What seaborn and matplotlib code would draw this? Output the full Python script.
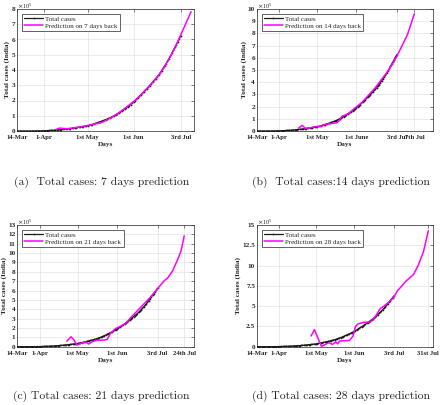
import numpy as np
import pandas as pd
import matplotlib
matplotlib.use("Agg")
import matplotlib.pyplot as plt
import seaborn as sns
from matplotlib.ticker import ScalarFormatter

# ---------------- data ----------------
# cumulative total cases in India, daily from 14-Mar (day 0) to 3-Jul (day 111)
total_cases = [
    100, 110, 114, 137, 151, 173, 223, 283, 360, 433, 519, 606, 694, 834, 918, 1024,
    1251, 1397, 1834, 2069, 2547, 3072, 3588, 4289, 4778, 5351, 5916, 6725, 7600,
    8446, 9205, 10453, 11487, 12371, 13430, 14352, 15722, 17265, 18600, 20080,
    21373, 23077, 24506, 26283, 27890, 29451, 31324, 33062, 35043, 37336, 39980,
    42533, 46433, 49391, 52952, 56342, 59662, 62939, 67152, 70756, 74281, 78003,
    81970, 85940, 90927, 96169, 101139, 106750, 112359, 118447, 125101, 131868,
    138845, 145380, 151767, 158333, 165799, 173763, 182143, 190535, 198706,
    207615, 216919, 226770, 236657, 246628, 256611, 266598, 276583, 286579,
    297535, 308993, 320922, 332424, 343091, 354065, 366946, 380532, 395048,
    410461, 425282, 440215, 456183, 473105, 490401, 508953, 528859, 548318,
    566840, 585493, 604641, 625544,
]

# predictions (values in units of 1e5 cases)
pred7_days = [27, 29, 31, 34, 38, 42, 47, 52, 57, 60, 64, 68, 72, 76, 80, 84, 88,
              92, 96, 100, 104, 108, 111, 114, 118]
pred7_vals = [0.13, 0.19, 0.17, 0.15, 0.2, 0.26, 0.34, 0.45, 0.55, 0.68, 0.88, 1.12,
              1.4, 1.7, 2.0, 2.38, 2.78, 3.2, 3.65, 4.2, 4.9, 5.65, 6.3, 6.95, 7.82]

pred14_days = [33, 36, 38.7, 41.4, 46, 51.5, 54, 59.5, 63.5, 65.4, 67.5, 72.8, 78,
               83.5, 88.8, 94, 99.5, 105, 111, 115.5, 119.5, 125]
pred14_vals = [0.22, 0.46, 0.22, 0.24, 0.35, 0.4, 0.54, 0.62, 0.67, 0.84, 1.2, 1.43,
               1.9, 2.35, 2.95, 3.55, 4.3, 5.05, 6.1, 7.05, 7.9, 9.6]

pred21_days = [39.3, 42.7, 45, 47.3, 50.5, 54, 56.6, 59.2, 63.2, 68.5, 71.2, 73.8,
               77.8, 81.8, 85.8, 89.7, 93.7, 99, 104.4, 111, 116.3, 119, 123, 127,
               129.6, 132]
pred21_vals = [0.6, 1.06, 0.7, 0.18, 0.35, 0.53, 0.28, 0.53, 0.7, 0.7, 0.78, 1.41,
               1.94, 2.19, 2.47, 3.1, 3.65, 4.4, 5.15, 6.2, 7.05, 7.35, 8.13, 9.36,
               10.25, 11.84]

pred28_days = [44, 46.8, 50, 52.4, 55.8, 58.6, 61.3, 64, 65.5, 67, 71, 75, 78, 80, 82,
               86.4, 92, 96, 100, 103, 107, 111, 114, 117, 121, 124, 127, 131, 135, 139]
pred28_vals = [1.32, 2.1, 0.9, 0.05, 0.3, 0.5, 0.28, 0.6, 0.35, 0.7, 0.75, 0.75, 1.3,
               2.5, 2.8, 3.0, 3.05, 3.7, 4.7, 5.0, 5.5, 6.1, 6.9, 7.4, 8.1, 8.5, 8.9,
               10.1, 11.7, 14.3]

horizons = [7, 14, 21, 28]
captions = ["(a)  Total cases: 7 days prediction",
            "(b)  Total cases:14 days prediction",
            "(c) Total cases: 21 days prediction",
            "(d) Total cases: 28 days prediction"]
tick_days = [[0, 18, 48, 79, 111],
             [0, 18, 48, 79, 111, 125],
             [0, 18, 48, 79, 111, 132],
             [0, 18, 48, 79, 111, 139]]
tick_labels = [["14-Mar", "1-Apr", "1st May", "1st Jun", "3rd Jul"],
               ["14-Mar", "1-Apr", "1st May", "1st June", "3rd Jul", "7th Jul"],
               ["14-Mar", "1-Apr", "1st May", "1st Jun", "3rd Jul", "24th Jul"],
               ["14-Mar", "1-Apr", "1st May", "1st Jun", "3rd Jul", "31st Jul"]]
x_max = [120, 140, 140, 143]
y_max = [8, 10, 13, 15]
y_step = [1, 1, 1, 2.5]

SCALE = 1e5


class GFormatter(ScalarFormatter):
    def _set_format(self):
        self.format = "%g"


# ---------------- styling ----------------
sns.set_theme(style="whitegrid")
plt.rcParams["font.family"] = ["Liberation Serif", "DejaVu Serif"]
plt.rcParams["mathtext.fontset"] = "dejavuserif"

fig = plt.figure(figsize=(4.4, 4.05), dpi=100)
W, H = 440.0, 405.0
boxes = [(17, 9, 194, 131), (256.7, 9, 433.3, 131),
         (17, 225, 194.3, 346.7), (256.7, 225, 433.3, 346.7)]
cap_pos = [(101.7, 182), (341, 182), (101.7, 396), (341, 396)]

preds = [(pred7_days, pred7_vals), (pred14_days, pred14_vals),
         (pred21_days, pred21_vals), (pred28_days, pred28_vals)]

df_total = pd.DataFrame({"day": np.arange(len(total_cases)), "cases": total_cases})

tick_color = "#262626"
for i in range(4):
    l, t, r, b = boxes[i]
    ax = fig.add_axes([l / W, 1 - b / H, (r - l) / W, (b - t) / H])
    pdays, pvals = preds[i]
    df_pred = pd.DataFrame({"day": pdays, "cases": np.array(pvals) * SCALE})

    sns.lineplot(data=df_total, x="day", y="cases", ax=ax, color="#1a1a1a",
                 linewidth=0.9, marker="o", markersize=1.2, markeredgewidth=0,
                 label="Total cases", zorder=3)
    sns.lineplot(data=df_pred, x="day", y="cases", ax=ax, color="#ff00ff",
                 linewidth=1.1, label=f"Prediction on {horizons[i]} days back",
                 zorder=4)

    ax.set_xlim(0, x_max[i])
    ax.set_ylim(0, y_max[i] * SCALE)
    ax.set_yticks(np.arange(0, y_max[i] + 0.01, y_step[i]) * SCALE)
    ax.set_xticks(tick_days[i])
    ax.set_xticklabels(tick_labels[i])

    fmt = GFormatter(useMathText=True)
    fmt.set_powerlimits((5, 5))
    ax.yaxis.set_major_formatter(fmt)
    ax.yaxis.OFFSETTEXTPAD = 0.3
    ax.yaxis.get_offset_text().set_fontsize(4.5)
    ax.yaxis.get_offset_text().set_color(tick_color)

    ax.tick_params(axis="both", which="major", direction="in",
                   length=2, width=0.4, colors=tick_color,
                   top=True, right=True)
    ax.tick_params(axis="x", pad=3, labelsize=4.8)
    ax.tick_params(axis="y", pad=1.2, labelsize=5.2)
    for lab in ax.get_xticklabels() + ax.get_yticklabels():
        lab.set_fontweight("bold")

    ax.grid(True, color="#e3e3e3", linewidth=0.5)
    for s in ax.spines.values():
        s.set_color("#262626")
        s.set_linewidth(0.5)

    ax.set_xlabel("Days", fontsize=5.2, fontweight="bold", labelpad=1.5,
                  color=tick_color)
    ax.set_ylabel("Total cases (India)", fontsize=5.2, fontweight="bold",
                  labelpad=0.8, color=tick_color)

    leg = ax.legend(loc="upper left", fontsize=5, frameon=True, fancybox=False,
                    framealpha=1, edgecolor="#262626", handlelength=2.8,
                    handletextpad=0.3, borderpad=0.3, labelspacing=0.15,
                    borderaxespad=0.7)
    leg.get_frame().set_linewidth(0.5)

    cx, cy = cap_pos[i]
    fig.text(cx / W, 1 - cy / H, captions[i], ha="center", va="center",
             fontsize=8.4, fontfamily="cmr10", color="#222222")

fig.savefig("out.png", dpi=100)
